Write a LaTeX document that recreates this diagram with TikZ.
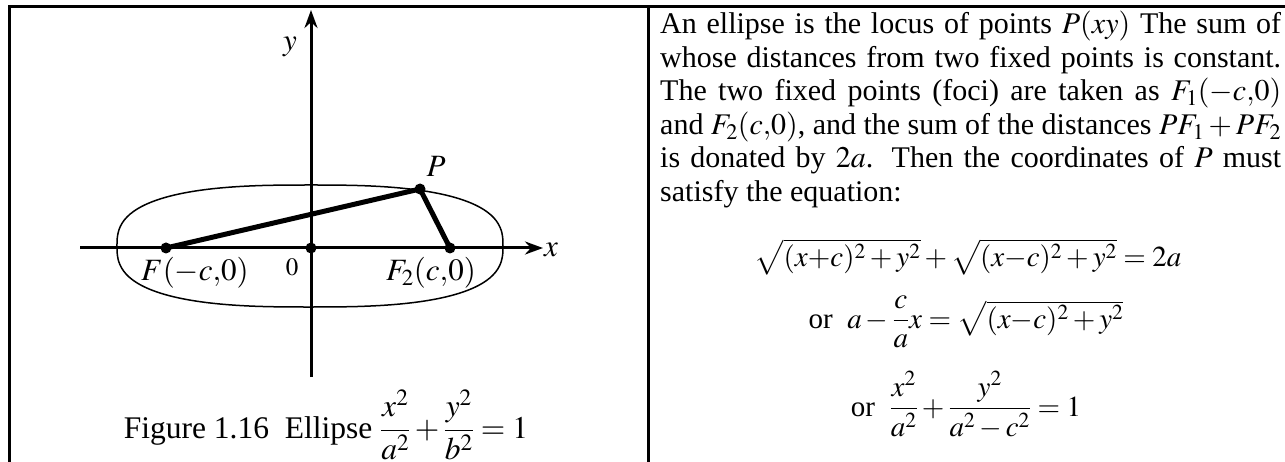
\documentclass[tikz,border=0pt]{standalone}
\usepackage{amsmath}
\usepackage{mathptmx}
\usepackage[no-math]{fontspec}
\setmainfont{Liberation Serif}
\usetikzlibrary{arrows.meta}
\tikzset{
  rule/.style={line width=3pt},
  axis/.style={line width=3pt, -{Stealth[length=18pt,width=13pt]}},
  seg/.style={line width=5pt},
  ell/.style={line width=1.5pt},
  dot/.style={circle, fill=black, inner sep=0pt, minimum size=11pt},
  lbl/.style={inner sep=0pt, font=\fontsize{31}{34}\selectfont},
  body/.style={inner sep=0pt, font=\fontsize{30}{33.5}\selectfont},
  eqn/.style={inner sep=0pt, font=\fontsize{29}{32}\selectfont},
  captext/.style={inner sep=0pt, font=\fontsize{31.5}{34}\selectfont},
  zero/.style={inner sep=0pt, font=\fontsize{25}{28}\selectfont},
}
\begin{document}
\begin{tikzpicture}[x=1pt, y=-1pt]
\useasboundingbox (0,0) rectangle (1285,462);
% table rules
\coordinate (tl) at (9,7);
\coordinate (tr) at (1285,7);
\coordinate (bl) at (9,462);
\coordinate (mt) at (648,7);
\coordinate (mb) at (648,462);
\draw[rule] (tr) -- (tl) -- (bl);
\draw[rule] (mt) -- (mb);
% axes
\coordinate (xl) at (80,248);
\coordinate (xr) at (543,248);
\coordinate (yb) at (311,377);
\coordinate (yt) at (311,10);
\draw[axis] (xl) -- (xr);
\draw[axis] (yb) -- (yt);
\node[lbl, anchor=west] (xlab) at (544,250) {$x$};
\node[lbl] (ylab) at (290,47) {$y$};
% ellipse
\draw[ell] plot[domain=0.5:360.5, samples=121, smooth]
  ({310+193*sign(cos(\x))*pow(abs(cos(\x)),0.74)},
   {246+61*sign(sin(\x))*pow(abs(sin(\x)),0.74)}) -- cycle;
% points
\node[dot] (F) at (166,248) {};
\node[dot] (O) at (311,248) {};
\node[dot] (F2) at (450,248) {};
\node[dot] (P) at (420,189) {};
\draw[seg] (F.center) -- (P.center);
\draw[seg] (P.center) -- (F2.center);
\node[lbl] (Plab) at (436,166) {$P$};
\node[lbl] (Flab) at (195,273) {$F(-c{,}0)$};
\node[zero] (Olab) at (292,267) {$0$};
\node[lbl] (F2lab) at (431,273) {$F_2(c{,}0)$};
% caption
\node[captext] (cap) at (326,425)
  {Figure 1.16\ \ Ellipse $\dfrac{x^2}{a^2}+\dfrac{y^2}{b^2}=1$};
% right text
\node[body, anchor=base west, text width=621pt, align=justify] (para) at (660,34)
{\baselineskip=33.5pt\relax\parindent0pt An ellipse is the locus of points $P(xy)$ The sum of\linebreak
whose distances from two fixed points is constant.\linebreak
The two fixed points (foci) are taken as $F_1(-c{,}0)$\linebreak
and $F_2(c{,}0)$, and the sum of the distances $PF_1+PF_2$\linebreak
is donated by $2a$. Then the coordinates of $P$ must\linebreak
satisfy the equation:};
\node[eqn] (eq1) at (968,257)
  {$\sqrt{(x{+}c)^2+y^2}+\sqrt{(x{-}c)^2+y^2}=2a$};
\node[eqn] (eq2) at (966,322)
  {or\ \ $a-\dfrac{c}{a}x=\sqrt{(x{-}c)^2+y^2}$};
\node[eqn] (eq3) at (966,405)
  {or\ \ $\dfrac{x^2}{a^2}+\dfrac{y^2}{a^2-c^2}=1$};
\end{tikzpicture}
\end{document}
